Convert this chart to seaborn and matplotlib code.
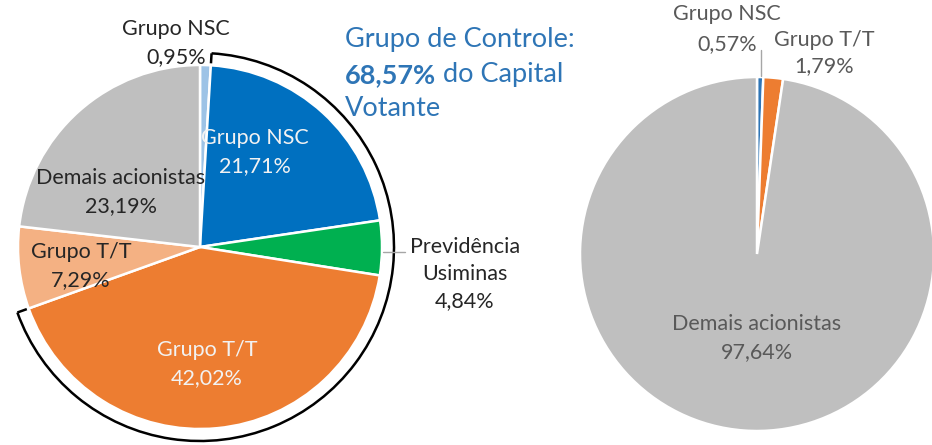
import numpy as np
import matplotlib.pyplot as plt
from matplotlib.patches import Arc
import seaborn as sns

sns.set_theme(style="white")
plt.rcParams['font.family'] = ['Lato', 'DejaVu Sans']

# capital votante
votante_labels = ["Grupo NSC", "Grupo NSC", "Previdência\nUsiminas", "Grupo T/T", "Grupo T/T", "Demais acionistas"]
votante_values = [0.95, 21.71, 4.84, 42.02, 7.29, 23.19]
votante_colors = ["#9DC3E6", "#0070C0", "#00B050", "#ED7D31", "#F4B183", "#BFBFBF"]
votante_controle = [False, True, True, True, False, False]

# capital total
total_labels = ["Grupo NSC", "Grupo T/T", "Demais acionistas"]
total_values = [0.57, 1.79, 97.64]
total_colors = ["#2E75B6", "#ED7D31", "#BFBFBF"]


def pct(v):
    return f"{v:.2f}".replace(".", ",") + "%"


W, H = 932, 445
fig = plt.figure(figsize=(W / 100, H / 100), dpi=100)
ax = fig.add_axes([0, 0, 1, 1])

# pixel-like coordinates, y from the bottom
c1, r1 = (200, H - 247), 182
c2, r2 = (757, H - 254), 177

wp = dict(edgecolor="white", linewidth=1.8)
ax.pie(votante_values, colors=votante_colors, startangle=90, counterclock=False,
       center=c1, radius=r1, wedgeprops=wp)
ax.pie(total_values, colors=total_colors, startangle=90, counterclock=False,
       center=c2, radius=r2, wedgeprops=wp)
ax.set_xlim(0, W)
ax.set_ylim(0, H)
ax.set_aspect("equal")
ax.axis("off")

# labels (positions in pixels from top)
dark = "#262626"
fs = 15.5
pos1 = [(176, 43), (255, 152), (465, 274), (207, 364), (81, 266), (121, 192)]
col1 = [dark, "#F2F2F2", dark, "#F2F2F2", dark, dark]
for lab, v, (x, y), c in zip(votante_labels, votante_values, pos1, col1):
    ax.text(x, H - y, f"{lab}\n{pct(v)}", ha="center", va="center",
            color=c, fontsize=fs, linespacing=1.45)

# leader for Previdência
ax.plot([c1[0] + r1 + 1, 405], [H - 252, H - 252], color="#A6A6A6", lw=1)

grey_txt = "#595959"
pos2 = [(727, 29), (824, 53), (757, 338)]
ls2 = [1.65, 1.4, 1.5]
for lab, v, (x, y), ls in zip(total_labels, total_values, pos2, ls2):
    ax.text(x, H - y, f"{lab}\n{pct(v)}", ha="center", va="center",
            color=grey_txt, fontsize=fs, linespacing=ls)
ax.plot([761, 761], [H - 50, H - 76], color="#A6A6A6", lw=1)

# arc around the control group
cum = np.concatenate([[0], np.cumsum(votante_values)])
idx = [i for i, f in enumerate(votante_controle) if f]
a_start = 90 - 360 * cum[idx[0]] / 100
a_end = 90 - 360 * cum[idx[-1] + 1] / 100
ra = 194
ax.add_patch(Arc(c1, 2 * ra, 2 * ra, theta1=a_end, theta2=a_start,
                 color="black", lw=1.8))
for a in (a_start, a_end):
    t = np.deg2rad(a)
    ax.plot([c1[0] + ra * np.cos(t), c1[0] + (ra - 10) * np.cos(t)],
            [c1[1] + ra * np.sin(t), c1[1] + (ra - 10) * np.sin(t)],
            color="black", lw=1.8, solid_capstyle="butt")

# title
blue = "#2E75B6"
controle_total = sum(v for v, f in zip(votante_values, votante_controle) if f)
tfs = 19.5
ax.text(345, H - 40, "Grupo de Controle:", color=blue, fontsize=tfs, va="center", ha="left")
b = ax.text(345, H - 75, pct(controle_total), color=blue, fontsize=tfs,
            fontweight="bold", va="center", ha="left")
ax.annotate(" do Capital", xy=(1, 0), xycoords=b, color=blue, fontsize=tfs,
            va="bottom", ha="left")
ax.text(345, H - 108, "Votante", color=blue, fontsize=tfs, va="center", ha="left")

fig.savefig("out.png", dpi=100)
